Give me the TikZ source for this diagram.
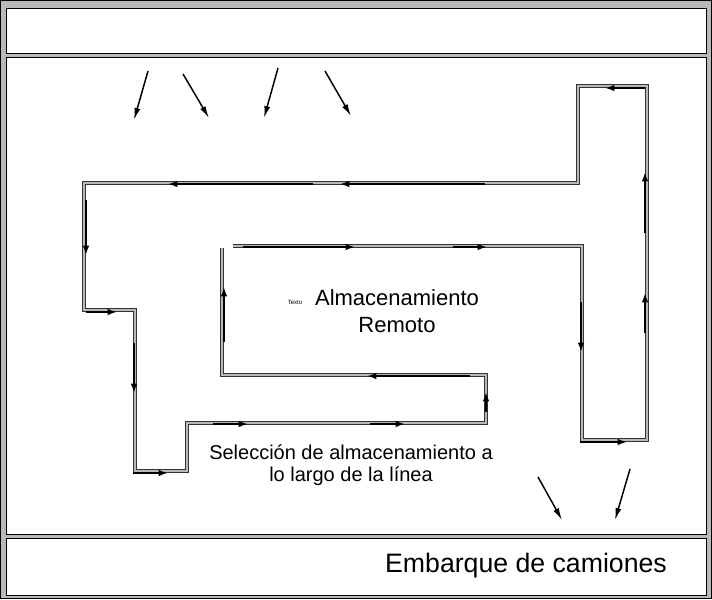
\documentclass[tikz,border=0pt]{standalone}
\usepackage{fontspec}
\setmainfont{Liberation Sans}
\usepackage{tikz}
\usetikzlibrary{arrows.meta}
\tikzstyle{panel}=[draw=black, line width=.6pt, fill=white]
\tikzstyle{belt}=[draw=black!80, line width=.5pt, double=gray!55, double distance=1.9pt]
\tikzstyle{flow}=[line width=1.4pt, -{Latex[length=7pt,width=5pt]}]
\tikzstyle{feed}=[line width=1.1pt, -{Latex[length=9pt,width=4.5pt]}]

\begin{document}
\begin{tikzpicture}[x=.75pt, y=-.75pt]
    \useasboundingbox (0,0) rectangle (712,599);
    \draw[fill=gray!55, draw=black, line width=.6pt] (.5,.5) rectangle (711.5,598.5);

    % panels
    \draw[panel] (6,8) rectangle (706,53);
    \draw[panel] (6,57) rectangle (706,534);
    \draw[panel] (6,538) rectangle (706,595);

    % belt corners
    \coordinate (c1) at (233,246);
    \coordinate (c2) at (582,246);
    \coordinate (c3) at (582,440);
    \coordinate (c4) at (647,440);
    \coordinate (c5) at (647,86);
    \coordinate (c6) at (578,86);
    \coordinate (c7) at (578,183);
    \coordinate (c8) at (84,183);
    \coordinate (c9) at (84,310);
    \coordinate (c10) at (135,310);
    \coordinate (c11) at (135,471);
    \coordinate (c12) at (187,471);
    \coordinate (c13) at (187,423);
    \coordinate (c14) at (486,423);
    \coordinate (c15) at (486,375);
    \coordinate (c16) at (222,375);
    \coordinate (c17) at (222,248);

    \draw[belt] (c1) -- (c2) -- (c3) -- (c4) -- (c5) -- (c6) -- (c7) -- (c8) -- (c9)
      -- (c10) -- (c11) -- (c12) -- (c13) -- (c14) -- (c15) -- (c16) -- (c17);

    % flow along the belt
    \foreach \xa/\ya/\xb/\yb in {313/184/168/184, 485/184/340/184, 86/200/86/255,
        86/312/117/312, 134/343/134/393, 133/473/168/473, 213/424/248/424,
        370/424/405/424, 486/412/486/392, 470/376/367/376, 224/342/224/287,
        243/247/355/247, 453/247/487/247, 581/302/581/352, 580/442/627/442,
        645/333/645/293, 645/233/645/172, 645/88/605/88}
      \draw[flow] (\xa,\ya) -- (\xb,\yb);

    % incoming and outgoing loads
    \foreach \xa/\ya/\xb/\yb in {148/71/134/120, 183/74/209/118, 278/68/264/118,
        325/71/351/116, 538/477/562/520, 630/469/615/520}
      \draw[feed] (\xa,\ya) -- (\xb,\yb);

    \node[font=\fontsize{4.5}{5}\selectfont] (tx) at (295,302) {Texto};
    \node[align=center, font=\fontsize{16.5}{20}\selectfont] (store) at (397,311)
      {Almacenamiento\\Remoto};
    \node[align=center, font=\fontsize{15}{16.5}\selectfont] (pick) at (351,465)
      {Selección de almacenamiento a\\lo largo de la línea};
    \node[font=\fontsize{20}{24}\selectfont] (ship) at (526,566) {Embarque de camiones};
\end{tikzpicture}
\end{document}
